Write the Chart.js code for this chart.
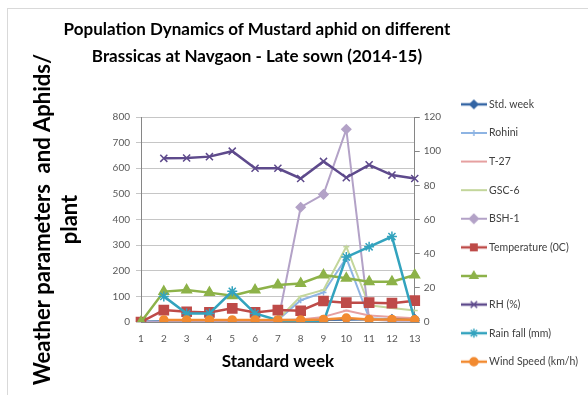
<!DOCTYPE html>
<html>
<head>
<meta charset="utf-8">
<script src="https://cdn.jsdelivr.net/npm/chart.js@4.4.1/dist/chart.umd.min.js"></script>
<style>
  html, body { margin: 0; padding: 0; background: #fff; }
  #wrap { position: relative; width: 588px; height: 409px; overflow: hidden; }
  #frame { position: absolute; left: 7px; top: 8px; width: 600px; height: 386px;
           border-top: 1px solid #d9d9d9; border-left: 1px solid #d9d9d9; pointer-events: none; }
  #title { position: absolute; left: 0; top: 15px; width: 514px; text-align: center;
           font: bold 17px Lato, sans-serif; line-height: 27px; color: #000; }
</style>
</head>
<body>
<div id="wrap">
  <canvas id="chart" width="588" height="409"></canvas>
  <div id="frame"></div>
  <div id="title">Population Dynamics of Mustard aphid on different<br>Brassicas at Navgaon - Late sown (2014-15)</div>
</div>
<script>
// weeks on the x axis
const weeks = ['1', '2', '3', '4', '5', '6', '7', '8', '9', '10', '11', '12', '13'];

// aphids per plant (left axis)
const stdWeek = [1, 2, 3, 4, 5, 6, 7, 8, 9, 10, 11, 12, 13];
const rohini = [0, 0, 0, 0, 0, 0, 8, 85, 115, 250, 15, 10, 8];
const t27 = [0, 0, 0, 0, 0, 0, 3, 10, 20, 45, 25, 20, 15];
const gsc6 = [0, 0, 0, 0, 0, 0, 10, 100, 125, 294, 65, 55, 45];
const bsh1 = [0, 0, 0, 0, 0, 0, 0, 448, 498, 752, 10, 5, 5];

// weather (right axis)
const temperature = [0, 7, 6, 5.6, 8, 5.6, 7, 6.6, 12.3, 11.3, 11.3, 11, 12.5];
const tempOther = [0, 17.8, 18.7, 17.2, 15.4, 18.7, 21.7, 22.6, 27.5, 25.6, 23.6, 23.6, 27.5];
const rh = [null, 95.8, 96, 96.8, 100, 90, 90, 84, 94, 84.5, 92, 86, 84];
const rainfall = [null, 15, 5, 5, 18, 5, 1, 0, 0, 38, 44, 50, 1];
const windSpeed = [null, 1.2, 1.2, 1.2, 1.2, 1.2, 1.2, 1.2, 1.5, 2.3, 1.5, 1.5, 1.3];

const leftTicks = [0, 800, 100];
const rightTicks = [0, 120, 20];

const FONT = 'Lato, sans-serif';

function serie(label, data, color, style, radius, width, axis) {
  return {
    label: label,
    data: data,
    yAxisID: axis,
    borderColor: color,
    backgroundColor: color,
    borderWidth: width,
    pointStyle: style,
    pointRadius: radius,
    pointBorderColor: color,
    pointBackgroundColor: color,
    pointBorderWidth: 1.5,
    tension: 0
  };
}

const datasets = [
  serie('Std. week', stdWeek, '#3465A4', 'rectRot', 4, 2.5, 'y'),
  serie('Rohini', rohini, '#8EB4E3', 'cross', 3, 2, 'y'),
  serie('T-27', t27, '#E6A0A0', 'line', 3, 2, 'y'),
  serie('GSC-6', gsc6, '#C3D69B', 'line', 3, 2, 'y'),
  serie('BSH-1', bsh1, '#B3A2C7', 'rectRot', 4.5, 2, 'y'),
  serie('Temperature (0C)', temperature, '#BE4B48', 'rect', 6.5, 2.5, 'y1'),
  serie('', tempOther, '#8DB249', 'triangle', 5.5, 2.5, 'y1'),
  serie('RH (%)', rh, '#5E4A8C', 'crossRot', 5, 2.5, 'y1'),
  serie('Rain fall (mm)', rainfall, '#33A3BE', 'star', 5, 2.5, 'y1'),
  serie('Wind Speed (km/h)', windSpeed, '#F28A30', 'circle', 4, 2.5, 'y1')
];
// later series on top, like the original
datasets.forEach((d, i) => { d.order = datasets.length - 1 - i; });

// little line + marker pictures for the legend
function sample(ds) {
  const c = document.createElement('canvas');
  c.width = 26;
  c.height = 12;
  const g = c.getContext('2d');
  g.strokeStyle = ds.borderColor;
  g.fillStyle = ds.borderColor;
  g.lineWidth = ds.borderWidth;
  g.beginPath();
  g.moveTo(0, 6);
  g.lineTo(26, 6);
  g.stroke();
  g.lineWidth = 1.5;
  Chart.helpers.drawPoint(g, {
    pointStyle: ds.pointStyle,
    radius: Math.min(ds.pointRadius, 4.5),
    rotation: 0,
    borderWidth: 1.5
  }, 13, 6);
  return c;
}
const samples = datasets.map(sample);

const ctx = document.getElementById('chart').getContext('2d');

const chart = new Chart(ctx, {
  type: 'line',
  data: { labels: weeks, datasets: datasets },
  options: {
    responsive: false,
    animation: false,
    layout: { padding: { top: 81, bottom: 10, left: 8, right: 0 } },
    plugins: {
      tooltip: { enabled: false },
      title: { display: false },
      legend: {
        position: 'right',
        align: 'start',
        maxWidth: 170,
        labels: {
          font: { family: FONT, size: 10.5 },
          color: '#404040',
          padding: 18.1,
          usePointStyle: true,
          pointStyleWidth: 20,
          sort: (a, b) => a.datasetIndex - b.datasetIndex,
          generateLabels(ch) {
            const items = Chart.defaults.plugins.legend.labels.generateLabels(ch);
            items.forEach(it => { it.pointStyle = samples[it.datasetIndex]; });
            return items;
          }
        }
      }
    },
    scales: {
      x: {
        grid: { display: false },
        border: { display: true, color: '#868686' },
        ticks: { font: { family: FONT, size: 10 }, color: '#595959', padding: 3 },
        title: {
          display: true,
          text: 'Standard week',
          font: { family: FONT, size: 17, weight: 'bold' },
          color: '#000',
          padding: { top: 0, bottom: 27 }
        },
        afterFit(s) { s.height = 77; }
      },
      y: {
        position: 'left',
        min: leftTicks[0],
        max: leftTicks[1],
        ticks: { stepSize: leftTicks[2], font: { family: FONT, size: 10 }, color: '#595959', padding: 6 },
        grid: { color: '#c6c6c6', tickLength: 5 },
        border: { display: true, color: '#868686' },
        title: {
          display: true,
          text: ['Weather parameters  and Aphids/', 'plant'],
          font: { family: FONT, size: 22, weight: 'bold', lineHeight: 1.23 },
          color: '#000',
          padding: { top: 21, bottom: 0 }
        },
        afterFit(s) { s.width = 133; s.paddingTop = 117; }
      },
      y1: {
        position: 'right',
        min: rightTicks[0],
        max: rightTicks[1],
        ticks: { stepSize: rightTicks[2], font: { family: FONT, size: 10 }, color: '#595959', padding: 4 },
        grid: { drawOnChartArea: false, color: '#868686', tickLength: 5 },
        border: { display: true, color: '#868686' },
        afterFit(s) { s.width = 31; }
      }
    }
  }
});
</script>
</body>
</html>
